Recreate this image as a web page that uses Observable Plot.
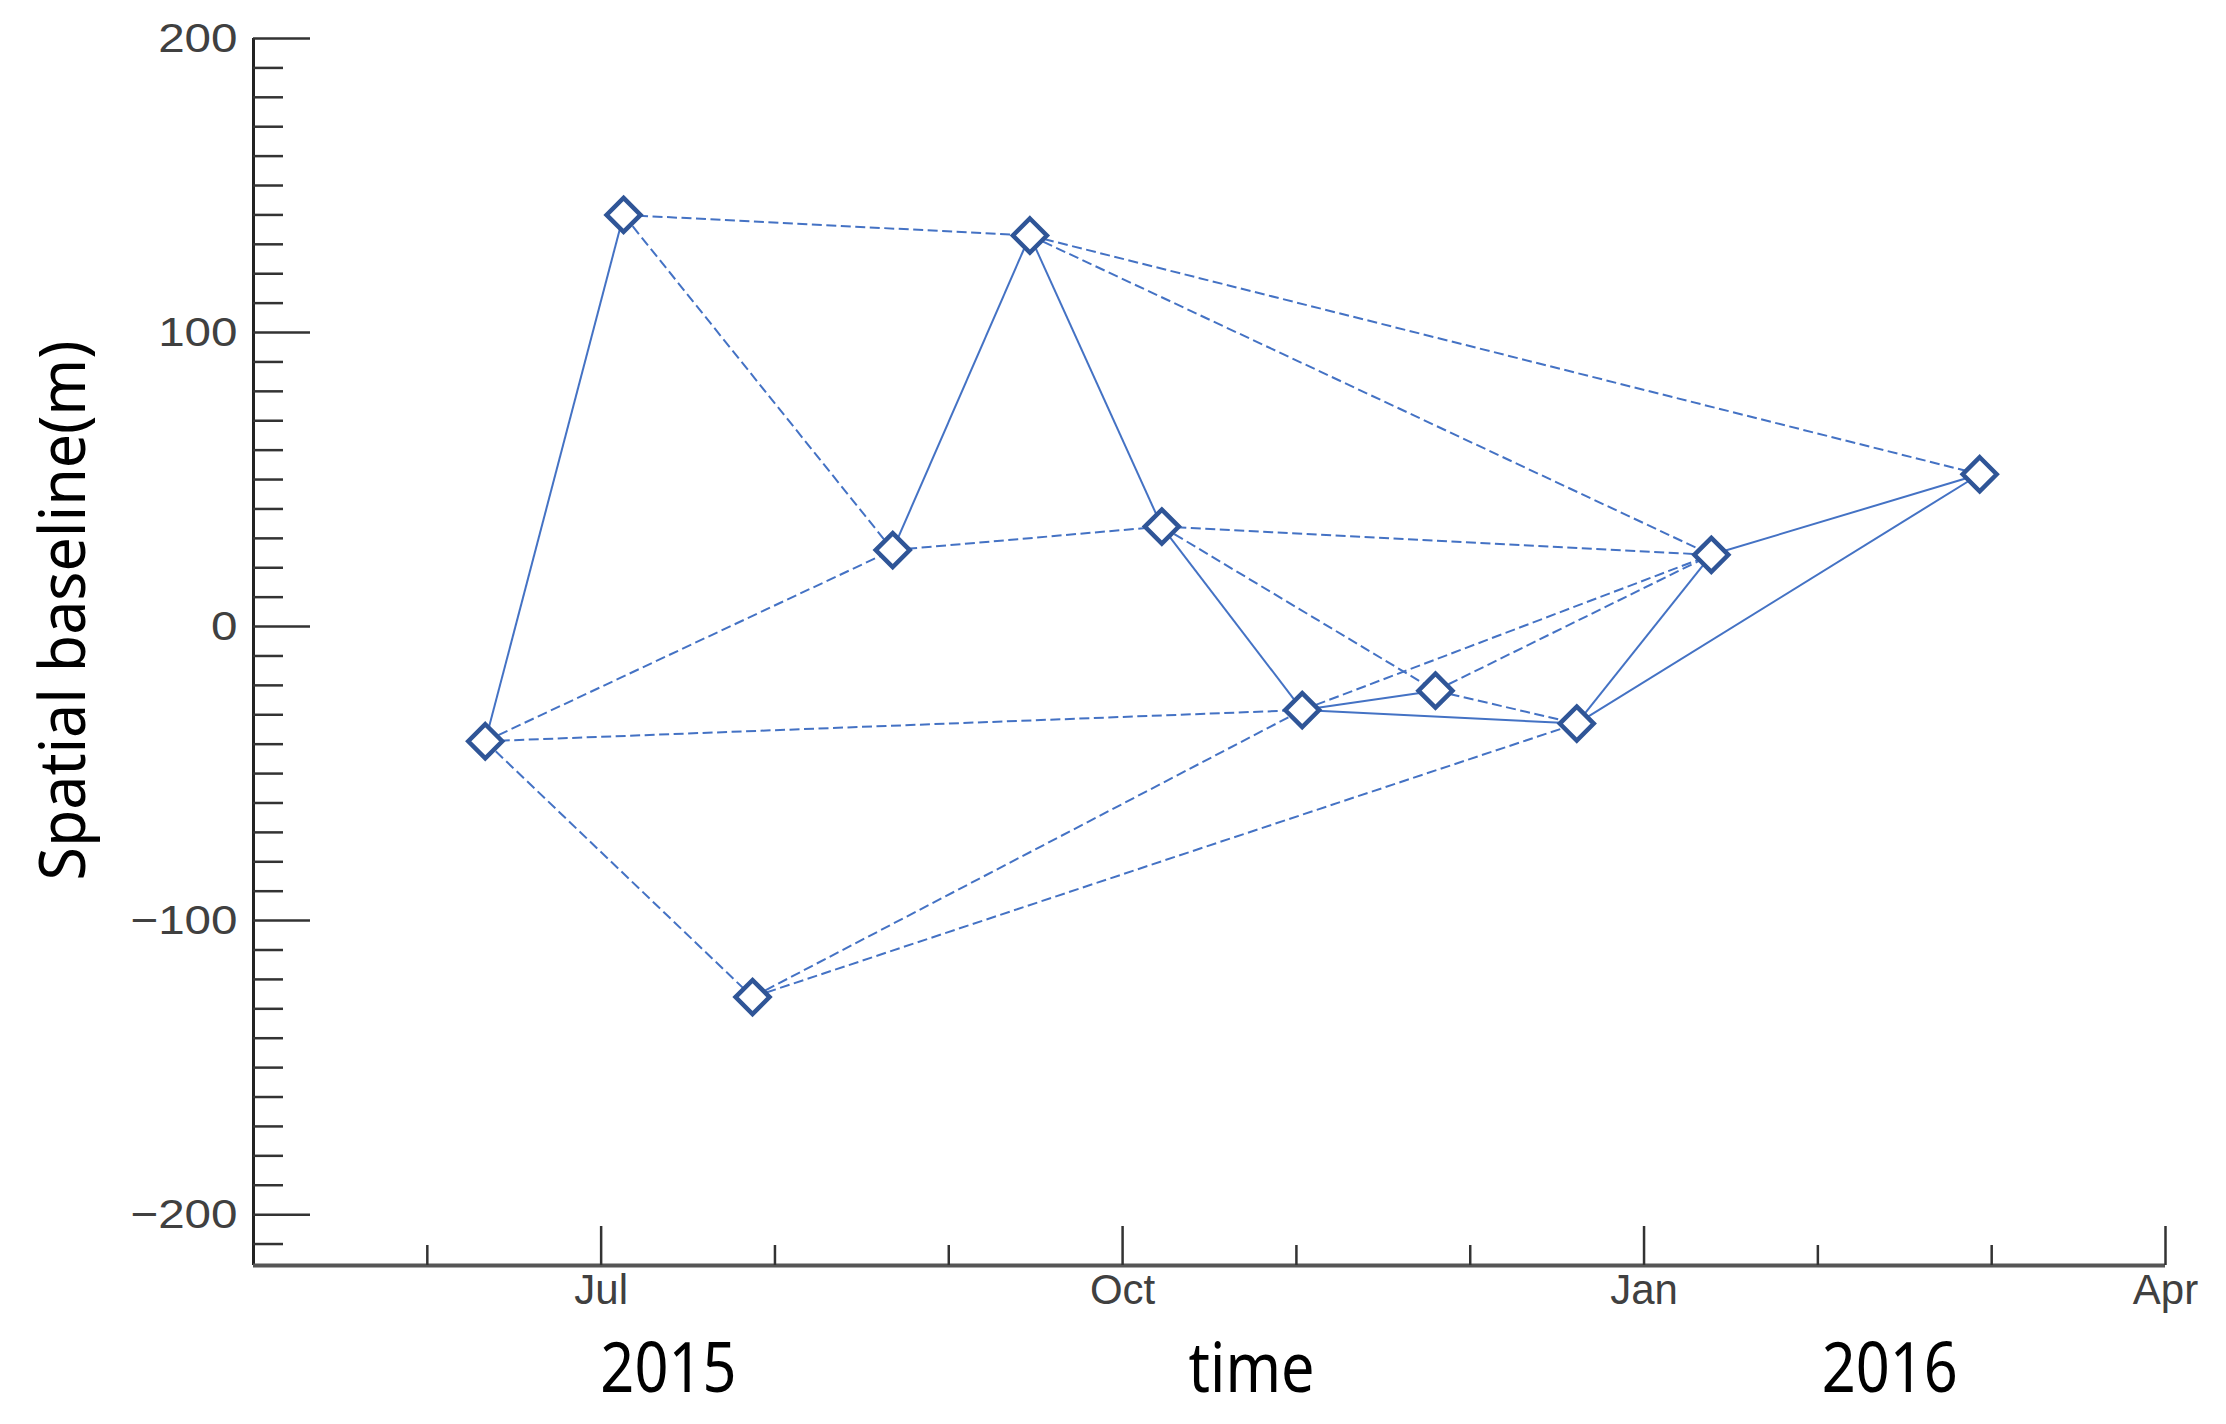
<!DOCTYPE html>
<html><head><meta charset="utf-8">
<script src="https://cdn.jsdelivr.net/npm/d3@7"></script>
<script src="https://cdn.jsdelivr.net/npm/@observablehq/plot@0.6"></script>
<style>body{margin:0;background:#fff}</style>
</head><body><div id="chart"></div>
<script>
// ---- data ----
const acquisitionDates = ["2015-06-11","2015-07-05","2015-07-28","2015-08-22","2015-09-15","2015-10-08","2015-11-02","2015-11-25","2015-12-20","2016-01-13","2016-02-28"];
const spatialBaselines = [-39, 140, -126, 26, 133, 34, -28.4, -21.8, -33, 24.4, 51.8];
// interferometric pairs (indices into the arrays above)
const solidPairs  = [[0,1],[3,4],[4,5],[5,6],[6,7],[6,8],[8,9],[8,10],[9,10]];
const dashedPairs = [[0,2],[0,3],[0,6],[1,3],[1,4],[2,6],[2,8],[3,5],[4,9],[4,10],[5,9],[5,7],[7,8],[6,9],[7,9]];
const yMajorTicks = [-200, -100, 0, 100, 200];
const yMinorTicks = [-210,-190,-180,-170,-160,-150,-140,-130,-120,-110,-90,-80,-70,-60,-50,-40,-30,-20,-10,10,20,30,40,50,60,70,80,90,110,120,130,140,150,160,170,180,190];
const xMajorTicks = ["2015-07-01","2015-10-01","2016-01-01","2016-04-01"];
const xMajorLabels = ["Jul","Oct","Jan","Apr"];
const xMinorTicks = ["2015-06-01","2015-08-01","2015-09-01","2015-11-01","2015-12-01","2016-02-01","2016-03-01"];
const bottomLabelDates = ["2015-07-13","2015-10-24","2016-02-13"];
const bottomLabelTexts = ["2015","time","2016"];
const yLabel = "Spatial baseline(m)";
const xDomain = ["2015-05-01","2016-04-01"];
const yDomain = [-217.3, 200];

// time axis in months-as-twelfths of a year (each month equally wide, as in the reference)
function decimalYear(s) {
  const [y, m, d] = s.split("-").map(Number);
  const dim = new Date(Date.UTC(y, m, 0)).getUTCDate();
  return y + (m - 1) / 12 + (d - 1) / (dim * 12);
}

// ---- tables ----
const nodes = acquisitionDates.map((d, i) => ({t: decimalYear(d), b: spatialBaselines[i]}));
const toLinks = pairs => pairs.map(([a, c]) => ({x1: nodes[a].t, y1: nodes[a].b, x2: nodes[c].t, y2: nodes[c].b}));
const bottomLabels = bottomLabelDates.map((d, i) => ({t: decimalYear(d), text: bottomLabelTexts[i]}));
const majorT = xMajorTicks.map(decimalYear);
const lineColor = "#4472C4";
const axisColor = "#333";
const tickFont = "Liberation Sans, Arial, sans-serif";

const chart = Plot.plot({
  width: 2226, height: 1424,
  marginLeft: 253, marginRight: 61, marginTop: 38, marginBottom: 159,
  x: {type: "linear", domain: xDomain.map(decimalYear), axis: null, label: null},
  y: {domain: yDomain, axis: null, label: null},
  style: {background: "white", overflow: "visible"},
  marks: [
    Plot.link(toLinks(dashedPairs), {x1: "x1", y1: "y1", x2: "x2", y2: "y2", stroke: lineColor, strokeWidth: 2, strokeDasharray: "10,4.5"}),
    Plot.link(toLinks(solidPairs), {x1: "x1", y1: "y1", x2: "x2", y2: "y2", stroke: lineColor, strokeWidth: 2}),
    Plot.dot(nodes, {x: "t", y: "b", symbol: "diamond2", r: 15.3, stroke: "#2F5597", strokeWidth: 4.5, fill: "white"}),
    // axis lines
    Plot.ruleX([decimalYear(xDomain[0])], {stroke: "#222", strokeWidth: 3}),
    Plot.ruleY([yDomain[0]], {stroke: "#555", strokeWidth: 4}),
    // y ticks (inward)
    Plot.axisY({ticks: yMinorTicks, tickSize: -30, text: null, stroke: axisColor, strokeWidth: 2.5, label: null}),
    Plot.axisY({ticks: yMajorTicks, tickSize: -57, text: null, stroke: axisColor, strokeWidth: 2.5, label: null}),
    Plot.axisY({ticks: yMajorTicks, tickSize: 0, tickPadding: 16, fontSize: 41, fontFamily: tickFont, fill: "#404040", label: null}),
    // x ticks (inward)
    Plot.axisX({ticks: xMinorTicks.map(decimalYear), tickSize: -20, text: null, stroke: axisColor, strokeWidth: 2.5, label: null}),
    Plot.axisX({ticks: majorT, tickSize: -39, text: null, stroke: axisColor, strokeWidth: 2.5, label: null}),
    Plot.axisX({ticks: majorT, tickSize: 0, tickPadding: 9,
      tickFormat: d => xMajorLabels[majorT.findIndex(v => Math.abs(v - d) < 1e-9)],
      fontSize: 42, fontFamily: tickFont, fill: "#404040", label: null}),
    // bottom labels
    Plot.text(bottomLabels, {x: "t", text: "text", frameAnchor: "bottom", dy: 126, fontSize: 70, fontFamily: "Noto Sans, sans-serif", fill: "black"}),
    // y label
    Plot.text([yLabel], {text: d => d, frameAnchor: "left", textAnchor: "middle", rotate: -90, dx: -189, dy: -41.5, fontSize: 64, fontFamily: "Noto Sans, sans-serif", fill: "black"})
  ]
});
document.getElementById("chart").appendChild(chart);

// horizontal stretch/compression of glyphs to match the reference's type
function stretchEls(els, factor, fixed) {
  els.forEach(t => {
    const L = t.getComputedTextLength();
    t.setAttribute("textLength", fixed ? fixed : L * factor);
    t.setAttribute("lengthAdjust", "spacingAndGlyphs");
  });
}
stretchEls(chart.querySelectorAll('g[aria-label="y-axis tick label"] text'), 1.16);
const textGroups = chart.querySelectorAll('g[aria-label="text"]');
if (textGroups[0]) stretchEls(textGroups[0].querySelectorAll("text"), 0.85);
if (textGroups[1]) stretchEls(textGroups[1].querySelectorAll("text"), 1, 540);
</script>
</body></html>
